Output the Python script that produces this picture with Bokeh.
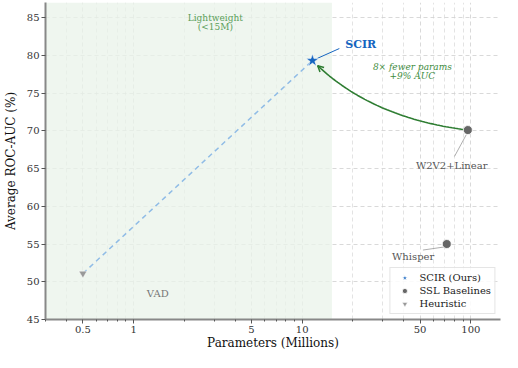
import numpy as np
from bokeh.plotting import figure
from bokeh.models import (BoxAnnotation, Arrow, OpenHead, FixedTicker, CustomJSTickFormatter,
                          Legend, LegendItem, Range1d)
from bokeh.core.properties import value
from bokeh.embed import file_html
from bokeh.resources import INLINE

# ---- data ----
scir_params = [11.5]
scir_auc = [79.3]
ssl_names = ["W2V2+Linear", "Whisper"]
ssl_params = [96.0, 72.0]
ssl_auc = [70.1, 55.0]
heur_names = ["VAD"]
heur_params = [0.5]
heur_auc = [51.1]
light_limit = 15.0
x_ticks = [0.5, 1, 5, 10, 50, 100]
x_minor = [0.3, 0.4, 0.6, 0.7, 0.8, 0.9, 2, 3, 4, 6, 7, 8, 9, 20, 30, 40, 60, 70, 80, 90]
y_ticks = [45, 50, 55, 60, 65, 70, 75, 80, 85]

FONT = "DejaVu Serif"
GREEN = "#2e7d32"
BLUE = "#1565c0"

p = figure(width=502, height=352, x_axis_type="log", output_backend="svg",
           toolbar_location=None, x_range=Range1d(0.3, 150), y_range=Range1d(45, 87),
           min_border_left=37, min_border_right=2, min_border_top=2, min_border_bottom=20)
p.outline_line_color = None
p.background_fill_color = "white"

# shaded lightweight region
p.add_layout(BoxAnnotation(right=light_limit, fill_color="#e9f3e9", fill_alpha=0.75,
                           line_color=None, level="underlay"))

# grids
for g in (p.xgrid, p.ygrid):
    g.grid_line_color = "#d0d0d0"
    g.grid_line_dash = "4 3"
    g.grid_line_alpha = 0.8
p.xgrid.minor_grid_line_color = "#d0d0d0"
p.xgrid.minor_grid_line_dash = "4 3"
p.xgrid.minor_grid_line_alpha = 0.6

# axes
p.xaxis.ticker = FixedTicker(ticks=x_ticks, minor_ticks=x_minor)
p.xaxis.formatter = CustomJSTickFormatter(code="return tick.toString();")
p.yaxis.ticker = FixedTicker(ticks=y_ticks)
for ax in (p.xaxis[0], p.yaxis[0]):
    ax.axis_line_color = "#888888"
    ax.axis_line_width = 2
    ax.major_tick_line_color = "#555555"
    ax.minor_tick_line_color = "#555555"
    ax.major_tick_out = 4
    ax.major_tick_in = 0
    ax.minor_tick_out = 2
    ax.minor_tick_in = 0
    ax.major_label_text_font = FONT
    ax.major_label_text_font_size = "10px"
    ax.major_label_text_color = "#333333"
    ax.major_label_standoff = 2
    ax.axis_label_text_font = FONT
    ax.axis_label_text_font_size = "12px"
    ax.axis_label_text_font_style = "normal"
    ax.axis_label_text_color = "#111111"
p.yaxis.minor_tick_line_color = None
p.xaxis.axis_label = "Parameters (Millions)"
p.yaxis.axis_label = "Average ROC-AUC (%)"
p.xaxis.axis_label_standoff = 0
p.yaxis.axis_label_standoff = 6

# dashed connector heuristic -> SCIR
p.line([heur_params[0], scir_params[0]], [heur_auc[0], scir_auc[0]],
       line_color="#90bce6", line_dash="5 4", line_width=1.5)

# curved arrow W2V2 -> SCIR (quadratic bezier in log-x space)
ctrl = (25.0, 71.7)
P0 = np.array([np.log10(ssl_params[0]), ssl_auc[0]])
P2 = np.array([np.log10(scir_params[0]), scir_auc[0]])
C = np.array([np.log10(ctrl[0]), ctrl[1]])
t = np.linspace(0, 0.955, 60)[:, None]
B = (1 - t) ** 2 * P0 + 2 * (1 - t) * t * C + t ** 2 * P2
p.line(10 ** B[:, 0], B[:, 1], line_color=GREEN, line_width=1.6)
p.add_layout(Arrow(end=OpenHead(size=6, line_color=GREEN, line_width=1.5),
                   x_start=10 ** B[-2, 0], y_start=B[-2, 1],
                   x_end=10 ** B[-1, 0], y_end=B[-1, 1],
                   line_color=GREEN, line_width=1.5))

# leader lines
p.line([scir_params[0] * 1.07, 16.6], [scir_auc[0] + 0.3, 80.9], line_color=BLUE, line_width=1)
p.line([ssl_params[0] * 0.98, 80.0], [ssl_auc[0] - 0.6, 66.6], line_color="#999999", line_width=0.8)
p.line([ssl_params[1] * 0.96, 52.0], [ssl_auc[1] - 0.4, 54.2], line_color="#999999", line_width=0.8)

# markers
r_scir = p.scatter(scir_params, scir_auc, marker="star", size=13, fill_color=BLUE,
                   line_color="white", line_width=0.5)
r_ssl = p.scatter(ssl_params, ssl_auc, marker="circle", size=9, fill_color="#666666",
                  line_color="white", line_width=0.8)
r_heur = p.scatter(heur_params, heur_auc, marker="inverted_triangle", size=8,
                   fill_color="#999999", line_color="white", line_width=0.5)

# texts
def txt(x, y, s, color, size="9px", style="normal", align="center", baseline="middle"):
    p.text([x], [y], text=[s], text_font=value(FONT), text_font_size=size,
           text_color=color, text_font_style=style, text_align=align, text_baseline=baseline)

txt(3.05, 84.9, "Lightweight", "#5a9e5a", "9px")
txt(3.05, 83.7, "(<15M)", "#5a9e5a", "9px")
txt(1.39, 48.5, heur_names[0], "#777777", "10px")
txt(18.0, 81.5, "SCIR", BLUE, "11px", "bold", align="left")
txt(45.0, 78.5, "8\u00d7 fewer params", "#3d8b3d", "9px", "italic")
txt(45.0, 77.3, "+9% AUC", "#3d8b3d", "9px", "italic")
txt(77.0, 65.4, ssl_names[0], "#555555", "10px")
txt(45.5, 53.4, ssl_names[1], "#555555", "10px")

legend = Legend(items=[LegendItem(label="SCIR (Ours)", renderers=[r_scir]),
                       LegendItem(label="SSL Baselines", renderers=[r_ssl]),
                       LegendItem(label="Heuristic", renderers=[r_heur])],
                location="bottom_right")
legend.label_text_font = FONT
legend.label_text_font_size = "10px"
legend.label_text_color = "#222222"
legend.border_line_color = "#cccccc"
legend.background_fill_alpha = 0.85
legend.spacing = 0
legend.padding = 3
legend.margin = 5
legend.glyph_height = 13
legend.label_height = 13
legend.glyph_width = 22
legend.label_standoff = 4
p.add_layout(legend)

open("out.html", "w").write(file_html(p, INLINE))
